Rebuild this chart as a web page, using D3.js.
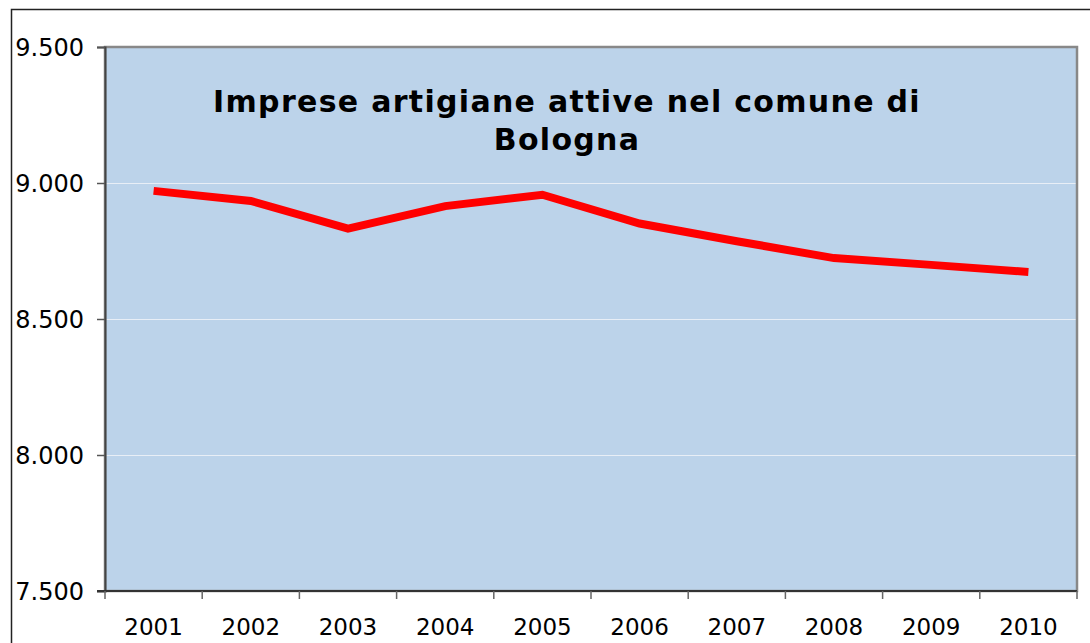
<!DOCTYPE html>
<html>
<head>
<meta charset="utf-8">
<script src="https://cdn.jsdelivr.net/npm/d3@7"></script>
<style>
body { margin: 0; background: #fff; }
svg { display: block; font-family: "DejaVu Sans", Verdana, sans-serif; }
</style>
</head>
<body>
<div id="chart"></div>
<script>
var width = 1090,
		height = 643;

// dati
var anni = ["2001", "2002", "2003", "2004", "2005", "2006", "2007", "2008", "2009", "2010"];
var imprese = [8971, 8934, 8832, 8915, 8957, 8851, 8786, 8724, 8699, 8673];
var yTicks = [7500, 8000, 8500, 9000, 9500];
var titolo = ["Imprese artigiane attive nel comune di", "Bologna"];

var margin = {top: 47, right: 13, bottom: 52, left: 105};
var w = width - margin.left - margin.right,
		h = height - margin.top - margin.bottom;

var svg = d3.select("#chart").append("svg")
	.attr("width", width).attr("height", height);

// cornice esterna (tagliata a destra e in basso)
svg.append("path")
	.attr("d", "M11.5," + height + "V9.5H" + width)
	.attr("fill", "none").attr("stroke", "#222").attr("stroke-width", 1.5);

var g = svg.append("g")
	.attr("transform", "translate(" + margin.left + "," + margin.top + ")");

var x = d3.scaleBand().domain(anni).range([0, w]);
var y = d3.scaleLinear().domain([7500, 9500]).range([h, 0]);
var fmt = function(d) { return d3.format(",")(d).replace(",", "."); };

g.append("rect").attr("width", w).attr("height", h)
	.attr("fill", "#BCD3EA");

// griglia
g.selectAll("line.grid").data(yTicks.slice(1, -1)).enter().append("line")
	.attr("class", "grid")
	.attr("x1", 0).attr("x2", w)
	.attr("y1", function(d) { return Math.round(y(d)) + .5; })
	.attr("y2", function(d) { return Math.round(y(d)) + .5; })
	.attr("stroke", "#E8EEF6").attr("stroke-width", 1.2);

// bordo area grafico
g.append("rect").attr("width", w).attr("height", h)
	.attr("fill", "none").attr("stroke", "#888").attr("stroke-width", 2.5);

// asse y
var yAxis = g.append("g").call(d3.axisLeft(y).tickValues(yTicks)
	.tickFormat(fmt).tickSize(8).tickPadding(14));
yAxis.select(".domain").attr("stroke", "#444").attr("stroke-width", 2);
yAxis.selectAll(".tick line").attr("stroke", "#555").attr("stroke-width", 1.5);
yAxis.selectAll("text").attr("font-size", 24).attr("fill", "#000")
	.attr("font-family", "DejaVu Sans").attr("dy", "0.36em");
yAxis.selectAll(".tick text").attr("x", -21);

// asse x
var bordi = d3.range(anni.length + 1).map(function(i) { return i * x.step(); });
var xAxis = g.append("g").attr("transform", "translate(0," + h + ")");
xAxis.append("line").attr("x1", -8).attr("x2", w)
	.attr("stroke", "#333").attr("stroke-width", 2);
xAxis.selectAll("line.tk").data(bordi).enter().append("line")
	.attr("class", "tk")
	.attr("x1", function(d) { return d; }).attr("x2", function(d) { return d; })
	.attr("y1", 0).attr("y2", 8)
	.attr("stroke", "#666").attr("stroke-width", 1.5);
xAxis.selectAll("text").data(anni).enter().append("text")
	.attr("x", function(d) { return x(d) + x.bandwidth() / 2; })
	.attr("y", 44)
	.attr("text-anchor", "middle")
	.attr("font-size", 23)
	.text(function(d) { return d; });

// linea
var line = d3.line()
	.x(function(d, i) { return x(anni[i]) + x.bandwidth() / 2; })
	.y(function(d) { return y(d); });

g.append("path").datum(imprese)
	.attr("d", line)
	.attr("fill", "none")
	.attr("stroke", "#FF0000")
	.attr("stroke-width", 8)
	.attr("stroke-linejoin", "miter");

// titolo
svg.selectAll("text.title").data(titolo).enter().append("text")
	.attr("class", "title")
	.attr("x", 567)
	.attr("y", function(d, i) { return 112 + i * 38; })
	.attr("text-anchor", "middle")
	.attr("font-weight", "bold")
	.attr("font-size", 30)
	.attr("letter-spacing", 1.3)
	.text(function(d) { return d; });
</script>
</body>
</html>
